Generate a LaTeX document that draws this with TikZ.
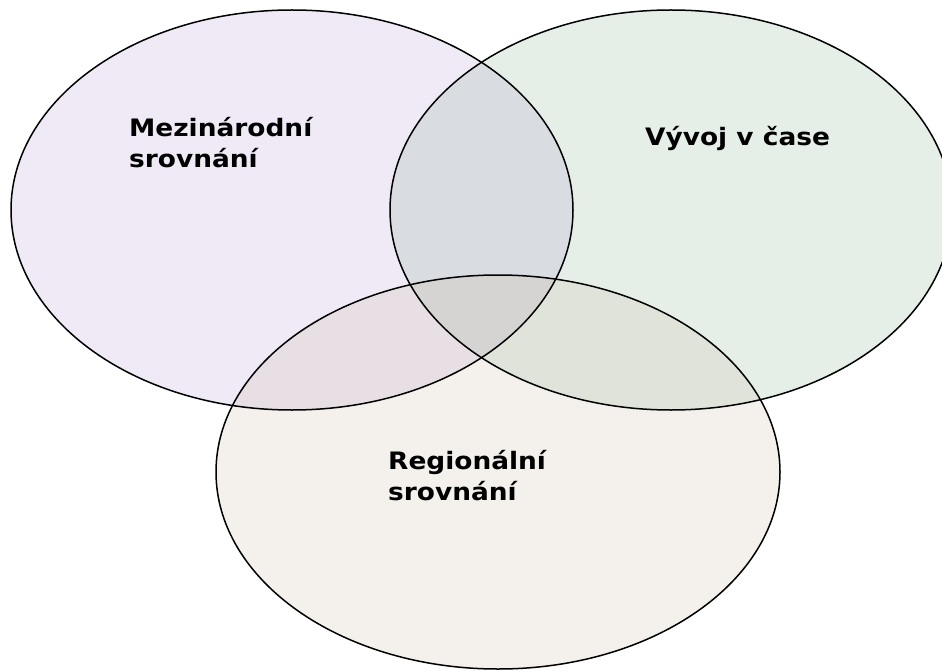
\documentclass[tikz,border=0pt]{standalone}
\usepackage{fontspec}
\setmainfont{DejaVu Sans}[FakeStretch=1.1]
\definecolor{cL}{HTML}{EFEAF5}
\definecolor{cR}{HTML}{E5EFE8}
\definecolor{cB}{HTML}{F4F1EC}
\definecolor{cLR}{HTML}{D9DCE1}
\definecolor{cLB}{HTML}{E7DFE4}
\definecolor{cRB}{HTML}{E0E3DA}
\definecolor{cLRB}{HTML}{D5D4D2}
\tikzset{
  outline/.style={draw=black, line width=1.5pt},
  label/.style={font=\bfseries\fontsize{24}{31}\selectfont, align=left, inner sep=0pt, anchor=base west}
}
\begin{document}
\begin{tikzpicture}[x=1pt,y=-1pt]
\useasboundingbox (0,0) rectangle (942,671);
\clip (0,0) rectangle (942,671);
\def\elL{(292,210) ellipse [x radius=281, y radius=200]}
\def\elR{(671,210) ellipse [x radius=281, y radius=200]}
\def\elB{(498,472) ellipse [x radius=282, y radius=197]}
\fill[cL] \elL;
\fill[cR] \elR;
\fill[cB] \elB;
\begin{scope}\clip \elL; \fill[cLR] \elR; \end{scope}
\begin{scope}\clip \elL; \fill[cLB] \elB; \end{scope}
\begin{scope}\clip \elR; \fill[cRB] \elB; \end{scope}
\begin{scope}\clip \elL; \clip \elR; \fill[cLRB] \elB; \end{scope}
\draw[outline] \elL;
\draw[outline] \elR;
\draw[outline] \elB;
\node[label] (m) at (129,168) {Mezinárodní\\srovnání};
\node[label] (v) at (645,146) {Vývoj v čase};
\node[label] (r) at (388,500) {Regionální\\srovnání};
\end{tikzpicture}
\end{document}
